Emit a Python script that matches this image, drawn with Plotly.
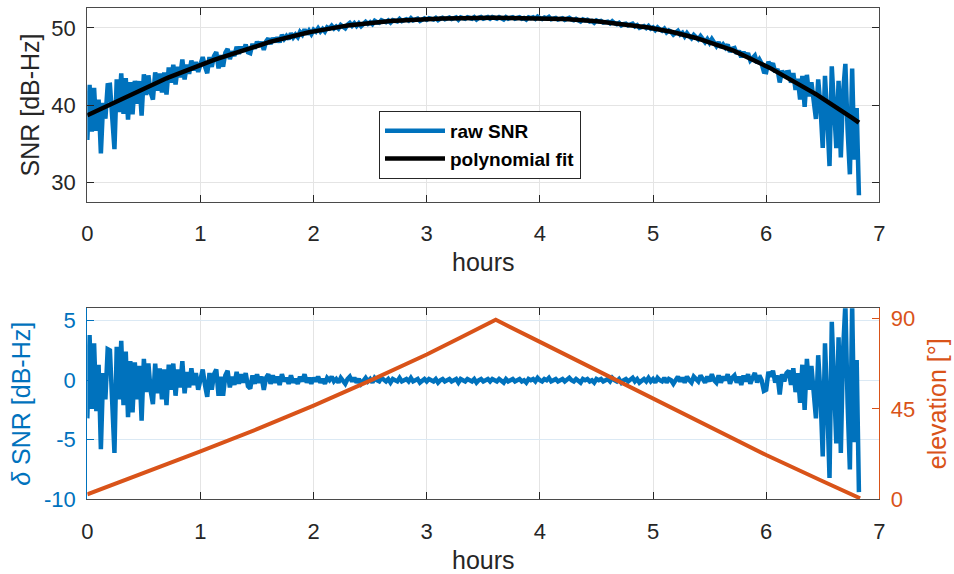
import numpy as np
import plotly.graph_objects as go

# ---------------- data ----------------
# uniformly sampled time axis, 0.02 h (72 s) steps, 0 ... 6.82 h
hours = np.round(np.arange(342) * 0.02, 2)

# polynomial fit of SNR [dB-Hz] at each sample (black curve)
snr_fit = [
    38.70, 38.84, 38.99, 39.13, 39.28, 39.42, 39.56, 39.70, 39.85, 39.99,
    40.13, 40.27, 40.41, 40.55, 40.69, 40.83, 40.97, 41.11, 41.24, 41.38,
    41.52, 41.66, 41.79, 41.93, 42.06, 42.20, 42.33, 42.46, 42.59, 42.72,
    42.85, 42.98, 43.10, 43.23, 43.35, 43.48, 43.60, 43.72, 43.85, 43.97,
    44.09, 44.21, 44.32, 44.44, 44.55, 44.67, 44.78, 44.89, 45.00, 45.11,
    45.22, 45.33, 45.44, 45.54, 45.65, 45.76, 45.86, 45.97, 46.07, 46.18,
    46.28, 46.38, 46.48, 46.58, 46.68, 46.78, 46.88, 46.97, 47.07, 47.16,
    47.26, 47.35, 47.44, 47.54, 47.63, 47.72, 47.80, 47.89, 47.97, 48.06,
    48.14, 48.22, 48.30, 48.38, 48.46, 48.54, 48.61, 48.69, 48.76, 48.84,
    48.91, 48.98, 49.05, 49.11, 49.18, 49.25, 49.31, 49.37, 49.44, 49.50,
    49.56, 49.62, 49.67, 49.73, 49.78, 49.84, 49.89, 49.94, 49.99, 50.04,
    50.09, 50.13, 50.18, 50.22, 50.27, 50.31, 50.35, 50.39, 50.42, 50.46,
    50.50, 50.53, 50.56, 50.60, 50.63, 50.66, 50.69, 50.72, 50.74, 50.77,
    50.80, 50.82, 50.85, 50.87, 50.90, 50.92, 50.94, 50.96, 50.98, 51.00,
    51.02, 51.04, 51.05, 51.07, 51.08, 51.10, 51.11, 51.12, 51.14, 51.15,
    51.16, 51.17, 51.18, 51.19, 51.20, 51.21, 51.22, 51.23, 51.23, 51.24,
    51.25, 51.26, 51.26, 51.27, 51.27, 51.28, 51.28, 51.29, 51.29, 51.30,
    51.30, 51.30, 51.30, 51.31, 51.31, 51.31, 51.31, 51.31, 51.31, 51.31,
    51.31, 51.31, 51.31, 51.31, 51.31, 51.31, 51.31, 51.31, 51.30, 51.30,
    51.30, 51.30, 51.30, 51.29, 51.29, 51.29, 51.29, 51.28, 51.28, 51.27,
    51.27, 51.26, 51.25, 51.25, 51.24, 51.23, 51.22, 51.21, 51.19, 51.18,
    51.17, 51.15, 51.14, 51.12, 51.11, 51.09, 51.07, 51.05, 51.03, 51.01,
    50.99, 50.97, 50.94, 50.92, 50.89, 50.87, 50.84, 50.81, 50.79, 50.76,
    50.73, 50.70, 50.67, 50.63, 50.60, 50.57, 50.53, 50.50, 50.46, 50.43,
    50.39, 50.35, 50.31, 50.27, 50.23, 50.19, 50.15, 50.10, 50.06, 50.01,
    49.97, 49.92, 49.86, 49.81, 49.75, 49.70, 49.64, 49.58, 49.51, 49.45,
    49.39, 49.32, 49.25, 49.17, 49.10, 49.03, 48.95, 48.87, 48.79, 48.71,
    48.63, 48.54, 48.45, 48.36, 48.27, 48.18, 48.08, 47.98, 47.88, 47.78,
    47.68, 47.57, 47.46, 47.34, 47.23, 47.12, 47.00, 46.87, 46.75, 46.62,
    46.50, 46.36, 46.23, 46.09, 45.96, 45.82, 45.67, 45.52, 45.38, 45.23,
    45.08, 44.92, 44.77, 44.61, 44.46, 44.30, 44.14, 43.98, 43.81, 43.65,
    43.49, 43.32, 43.15, 42.99, 42.82, 42.65, 42.48, 42.30, 42.13, 41.95,
    41.78, 41.60, 41.42, 41.24, 41.06, 40.88, 40.69, 40.50, 40.32, 40.13,
    39.94, 39.74, 39.55, 39.35, 39.16, 38.96, 38.76, 38.55, 38.35, 38.14,
    37.94, 37.74,
]

# residual delta SNR = raw - fit [dB-Hz] (bottom panel, blue)
snr_delta = [
    -3.2, 3.8, -2.4, 3.1, -2.6, 1.3, -5.8, 0.6, -1.6, 2.6,
    2.5, -1.3, -6.1, 2.8, -1.6, 3.3, -2.1, 2.4, -3.1, 1.6,
    -2.7, 1.5, -1.6, 1.2, -3.4, 1.8, -1.0, 1.4, -0.9, -2.0,
    1.4, -1.1, 1.0, -1.6, 0.9, -2.1, 1.3, -0.8, 1.4, -1.3,
    0.9, -0.6, 1.6, -1.1, 0.7, -0.6, 1.0, -0.4, 0.6, -0.8,
    0.3, 0.9, -0.4, -1.4, 0.6, -0.8, 0.5, 0.9, -1.3, 0.3,
    -1.3, 0.4, 0.8, -0.6, 0.3, -0.4, 0.7, -0.3, 0.5, -0.2,
    0.6, -0.5, -0.7, 0.4, -0.3, 0.5, -0.2, 0.3, -0.8, 0.2,
    0.5, -0.3, 0.4, -0.2, 0.3, -0.4, 0.5, -0.1, 0.2, -0.3,
    0.4, -0.2, 0.1, -0.3, 0.3, -0.1, 0.5, -0.2, 0.2, -0.3,
    0.2, -0.1, 0.3, -0.2, 0.1, -0.3, 0.2, 0.0, 0.3, -0.1,
    0.1, -0.2, 0.2, 0.0, -0.3, 0.1, 0.3, -0.1, 0.2, -0.2,
    0.1, -0.3, 0.0, 0.2, -0.1, 0.1, -0.2, 0.2, 0.0, -0.1,
    0.2, 0.0, -0.1, 0.1, -0.2, 0.1, 0.0, -0.1, 0.2, -0.1,
    0.0, 0.1, -0.1, 0.2, -0.1, 0.0, 0.1, -0.2, 0.0, 0.1,
    -0.1, 0.1, 0.0, -0.1, 0.1, -0.2, 0.0, 0.1, -0.1, 0.0,
    0.1, -0.1, 0.0, 0.1, -0.2, 0.1, 0.0, -0.1, 0.1, 0.0,
    -0.1, 0.1, -0.2, 0.0, 0.1, -0.1, 0.0, 0.1, -0.1, 0.1,
    0.0, -0.1, 0.1, 0.0, -0.2, 0.1, -0.1, 0.0, 0.1, -0.1,
    0.0, 0.1, -0.1, 0.0, -0.2, 0.1, 0.0, 0.1, -0.1, 0.2,
    0.0, -0.1, 0.1, 0.0, 0.2, -0.1, 0.0, 0.1, -0.1, 0.0,
    0.1, -0.1, 0.0, 0.2, 0.0, -0.1, 0.1, 0.0, -0.2, 0.1,
    0.0, 0.1, -0.1, 0.0, -0.2, 0.1, 0.0, 0.1, -0.1, 0.0,
    0.1, -0.1, 0.2, 0.0, -0.1, 0.1, -0.2, 0.0, 0.1, -0.1,
    0.0, 0.2, -0.1, 0.1, -0.2, 0.0, 0.1, -0.1, 0.2, -0.1,
    0.1, -0.2, 0.2, 0.0, -0.1, 0.2, -0.2, 0.1, 0.0, -0.3,
    0.1, 0.3, -0.1, 0.2, -0.2, 0.3, 0.0, -0.2, 0.3, 0.1,
    -0.1, 0.4, 0.0, -0.2, 0.3, -0.1, 0.5, 0.0, -0.2, 0.4,
    -0.2, 0.3, 0.0, 0.5, -0.3, 0.2, 0.4, -0.2, 0.3, -0.4,
    0.4, -0.1, 0.5, -0.3, 0.2, 0.6, -0.2, 0.4, 0.0, -0.9,
    -0.8, 0.7, 0.3, 0.8, -0.2, 0.4, -1.2, 0.5, -0.1, 0.6,
    0.8, -0.4, 1.0, -1.0, 0.6, -1.9, 1.3, -2.5, 1.8, -0.8,
    1.2, -1.5, -3.2, 2.1, -1.2, -6.4, 3.1, -2.0, -8.2, 4.9,
    -1.5, -5.3, 3.6, -6.1, 2.5, 6.4, -2.0, -7.5, 6.4, -5.2,
    1.7, -9.4,
]

# raw SNR = fit + residual
snr_raw = np.array(snr_fit) + np.array(snr_delta)

# satellite elevation [deg] (bottom panel, orange)
elev_hours = [0.0, 0.5, 1.0, 1.5, 2.0, 2.5, 3.0, 3.3, 3.61,
              4.0, 4.5, 5.0, 5.5, 6.0, 6.5, 6.83]
elev_deg = [2.5, 13.0, 23.8, 34.9, 46.6, 59.0, 72.0, 80.5, 89.3,
            78.3, 64.2, 50.1, 36.0, 22.0, 9.0, 0.5]

x_ticks = [0, 1, 2, 3, 4, 5, 6, 7]
snr_ticks = [30, 40, 50]
delta_ticks = [-10, -5, 0, 5]
delta_tick_text = ["-10", "-5", "0", "5"]
elev_ticks = [0, 45, 90]

# ---------------- styling ----------------
W, H = 954, 574
FONT = "Liberation Sans, Arial, Helvetica, sans-serif"
DARK = "#262626"
AXLINE = "#4a4a4a"
BLUE = "#0072BD"
ORANGE = "#D95319"
GRID = "#e4e4e4"
GRID_B = "#dbe9f4"
TICK_FS = 22
TITLE_FS = 25

xdom = [87.3 / W, 879.3 / W]
ydom_top = [1 - 201.7 / H, 1 - 8.3 / H]
ydom_bot = [1 - 499.3 / H, 1 - 308.3 / H]

fig = go.Figure()
fig.add_trace(go.Scatter(x=hours, y=snr_raw, mode="lines", name="raw SNR",
                         line=dict(color=BLUE, width=4.5), xaxis="x", yaxis="y"))
fig.add_trace(go.Scatter(x=hours, y=snr_fit, mode="lines", name="polynomial fit",
                         line=dict(color="black", width=4.5), xaxis="x", yaxis="y"))
fig.add_trace(go.Scatter(x=hours, y=snr_delta, mode="lines", showlegend=False,
                         line=dict(color=BLUE, width=4.5), xaxis="x2", yaxis="y2"))
fig.add_trace(go.Scatter(x=elev_hours, y=elev_deg, mode="lines", showlegend=False,
                         line=dict(color=ORANGE, width=4), xaxis="x2", yaxis="y3"))


def xax(anchor):
    return dict(domain=xdom, anchor=anchor, range=[0, 7], tickvals=x_ticks,
                automargin=False,
                showline=True, linecolor=AXLINE, linewidth=1.2, mirror="ticks",
                ticks="inside", ticklen=7, tickcolor=DARK, tickwidth=1,
                showgrid=True, gridcolor=GRID, gridwidth=1, zeroline=False,
                tickfont=dict(family=FONT, size=TICK_FS, color=DARK),
                ticklabelstandoff=12,
                title=dict(text="hours", standoff=8,
                           font=dict(family=FONT, size=TITLE_FS, color=DARK)))


fig.update_layout(
    width=W, height=H,
    margin=dict(l=0, r=0, t=0, b=0, autoexpand=False),
    paper_bgcolor="white", plot_bgcolor="white",
    font=dict(family=FONT, color=DARK),
    xaxis=xax("y"),
    xaxis2=xax("y2"),
    yaxis=dict(domain=ydom_top, anchor="x", range=[27.5, 52.55], tickvals=snr_ticks,
               automargin=False,
               showline=True, linecolor=AXLINE, linewidth=1.2, mirror="ticks",
               ticks="inside", ticklen=7, tickcolor=DARK, tickwidth=1,
               showgrid=True, gridcolor=GRID, zeroline=False,
               tickfont=dict(family=FONT, size=TICK_FS, color=DARK),
               ticklabelstandoff=6,
               title=dict(text="SNR [dB-Hz]", standoff=4,
                          font=dict(family=FONT, size=TITLE_FS, color=DARK))),
    yaxis2=dict(domain=ydom_bot, anchor="x2", range=[-10, 6.04],
                tickvals=delta_ticks, ticktext=delta_tick_text,
                automargin=False,
                showline=True, linecolor=BLUE, linewidth=1.2, mirror=False,
                ticks="inside", ticklen=7, tickcolor=BLUE, tickwidth=1,
                showgrid=True, gridcolor=GRID_B, zeroline=False,
                tickfont=dict(family=FONT, size=TICK_FS, color=BLUE),
                ticklabelstandoff=6,
                title=dict(text="<i>δ</i> SNR [dB-Hz]", standoff=6,
                           font=dict(family=FONT, size=TITLE_FS, color=BLUE))),
    yaxis3=dict(overlaying="y2", anchor="x2", side="right", range=[0, 95],
                tickvals=elev_ticks, automargin=False,
                showline=True, linecolor=ORANGE, linewidth=1.2,
                ticks="inside", ticklen=7, tickcolor=ORANGE, tickwidth=1,
                showgrid=False, zeroline=False,
                tickfont=dict(family=FONT, size=TICK_FS, color=ORANGE),
                ticklabelstandoff=6,
                title=dict(text="elevation [°]", standoff=14,
                           font=dict(family=FONT, size=TITLE_FS, color=ORANGE))),
    legend=dict(x=379 / W, y=1 - 111 / H, xanchor="left", yanchor="top",
                bgcolor="white", bordercolor=DARK, borderwidth=1,
                font=dict(family=FONT, size=19, color="black", weight="bold"),
                itemwidth=60, tracegroupgap=0),
    showlegend=True,
)

fig.write_html("out.html")
